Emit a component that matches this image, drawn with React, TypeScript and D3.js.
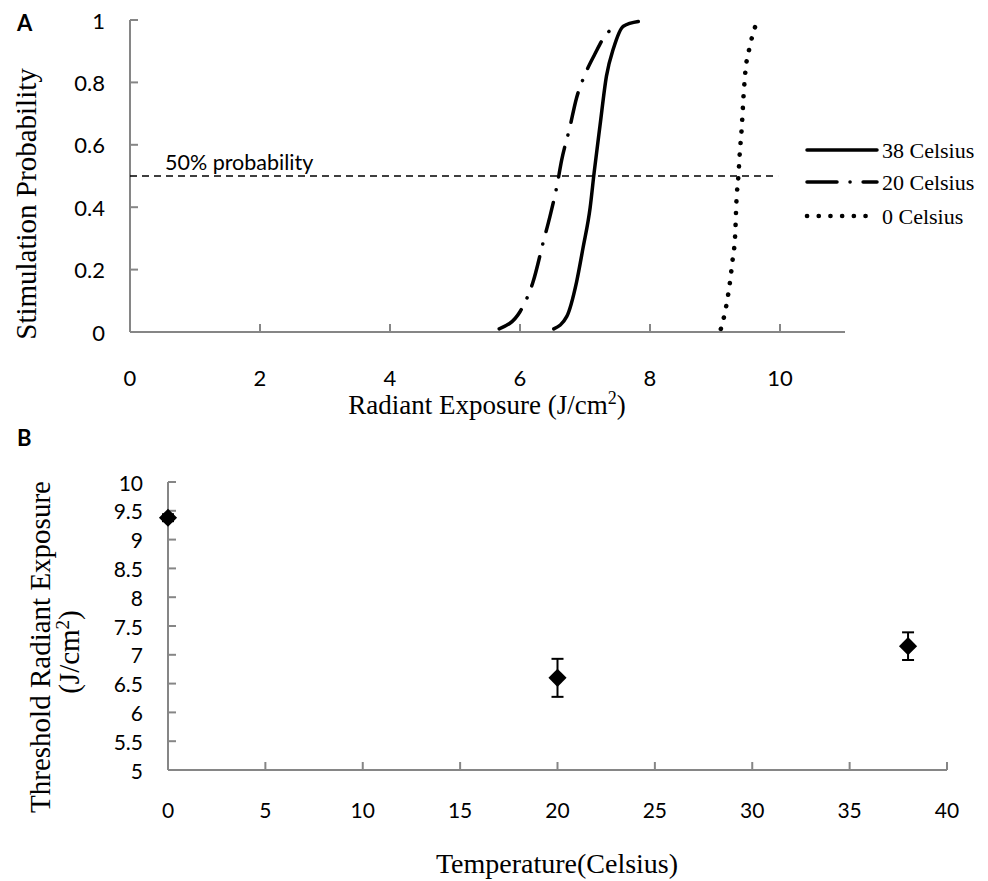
import * as d3 from "d3";

const WIDTH = 988;
const HEIGHT = 881;

// panel A: stimulation probability curves
const exposure38 = [6.52, 6.72, 6.87, 6.97, 7.08, 7.14, 7.23, 7.33, 7.44, 7.59, 7.82];
const prob38 = [0.01, 0.05, 0.16, 0.27, 0.4, 0.51, 0.66, 0.82, 0.91, 0.98, 0.995];
const exposure20 = [5.68, 6.0, 6.11, 6.2, 6.36, 6.46, 6.57, 6.64, 6.76, 6.87, 7.01, 7.15, 7.31, 7.49];
const prob20 = [0.01, 0.065, 0.11, 0.16, 0.29, 0.37, 0.47, 0.55, 0.65, 0.75, 0.83, 0.89, 0.95, 0.98];
const exposure0 = [9.09, 9.17, 9.23, 9.27, 9.31, 9.33, 9.36, 9.38, 9.41, 9.44, 9.47, 9.53, 9.62];
const prob0 = [0.01, 0.08, 0.16, 0.23, 0.31, 0.42, 0.5, 0.57, 0.65, 0.76, 0.84, 0.91, 0.98];
const legendLabels = ["38 Celsius", "20 Celsius", "0 Celsius"];
const xTicksA = [0, 2, 4, 6, 8, 10];
const yTicksA = [0, 0.2, 0.4, 0.6, 0.8, 1];

// panel B: threshold radiant exposure vs temperature
const temperatures = [0, 20, 38];
const thresholds = [9.38, 6.6, 7.15];
const errors = [0.06, 0.33, 0.24];
const xTicksB = [0, 5, 10, 15, 20, 25, 30, 35, 40];
const yTicksB = [5, 5.5, 6, 6.5, 7, 7.5, 8, 8.5, 9, 9.5, 10];

const AXIS = "#868686";
const SANS = "Lato, 'Open Sans', sans-serif";
const SERIF = "'Liberation Serif', 'DejaVu Serif', serif";

// solid, long dash-dot, round dots
const STYLES = [
  { dash: null, width: 3.5 },
  { dash: "30 13 0.1 13", width: 3.5 },
  { dash: "0.1 11.6", width: 4.6 },
];

export default function App() {
  // panel A scales
  const xA = d3.scaleLinear().domain([0, 11]).range([130, 845]);
  const yA = d3.scaleLinear().domain([0, 1]).range([332, 20]);

  const curves = [
    exposure38.map((e, i) => [e, prob38[i]]),
    exposure20.map((e, i) => [e, prob20[i]]),
    exposure0.map((e, i) => [e, prob0[i]]),
  ];
  const line = d3
    .line<number[]>()
    .x((d) => xA(d[0]))
    .y((d) => yA(d[1]))
    .curve(d3.curveMonotoneX);

  // panel B scales
  const xB = d3.scaleLinear().domain([0, 40]).range([168, 947]);
  const yB = d3.scaleLinear().domain([5, 10]).range([770, 482]);
  const diamond = d3.symbol(d3.symbolSquare, 165)();

  const legendY = [150, 182, 216];

  return (
    <svg
      width={WIDTH}
      height={HEIGHT}
      style={{ position: "absolute", left: 0, top: 0, background: "white" }}
    >
      {/* ---------- panel A ---------- */}
      <text x={17} y={31} fontFamily={SANS} fontWeight="bold" fontSize={22}>
        A
      </text>

      <line x1={xA(0)} x2={xA(0)} y1={yA(1)} y2={yA(0)} stroke={AXIS} strokeWidth={2} />
      <line x1={xA(0)} x2={xA(11)} y1={yA(0)} y2={yA(0)} stroke={AXIS} strokeWidth={2} />
      {yTicksA.map((t) => (
        <g key={t}>
          <line x1={xA(0)} x2={xA(0) + 8} y1={yA(t)} y2={yA(t)} stroke={AXIS} strokeWidth={2} />
          <text
            x={105}
            y={yA(t)}
            textAnchor="end"
            dominantBaseline="central"
            fontFamily={SANS}
            fontSize={22}
          >
            {t}
          </text>
        </g>
      ))}
      {xTicksA.map((t) => (
        <g key={t}>
          <line x1={xA(t)} x2={xA(t)} y1={yA(0)} y2={yA(0) - 8} stroke={AXIS} strokeWidth={2} />
          <text x={xA(t)} y={386} textAnchor="middle" fontFamily={SANS} fontSize={22}>
            {t}
          </text>
        </g>
      ))}

      {/* 50% line */}
      <line
        x1={xA(0)}
        x2={xA(9.97)}
        y1={yA(0.5)}
        y2={yA(0.5)}
        stroke="black"
        strokeWidth={1.6}
        strokeDasharray="7 5"
      />
      <text x={165} y={170} fontFamily={SANS} fontSize={21.5}>
        50% probability
      </text>

      {curves.map((c, i) => (
        <path
          key={i}
          d={line(c) || ""}
          fill="none"
          stroke="black"
          strokeWidth={STYLES[i].width}
          strokeDasharray={STYLES[i].dash || undefined}
          strokeLinecap="round"
        />
      ))}

      {legendLabels.map((lab, i) => (
        <g key={lab}>
          <line
            x1={807}
            x2={877}
            y1={legendY[i]}
            y2={legendY[i]}
            stroke="black"
            strokeWidth={STYLES[i].width}
            strokeDasharray={STYLES[i].dash || undefined}
            strokeLinecap="round"
          />
          <text
            x={882}
            y={legendY[i]}
            dominantBaseline="central"
            fontFamily={SERIF}
            fontSize={22}
          >
            {lab}
          </text>
        </g>
      ))}

      <text
        transform="translate(36, 204) rotate(-90)"
        textAnchor="middle"
        fontFamily={SERIF}
        fontSize={29}
      >
        Stimulation Probability
      </text>
      <text x={487} y={414} textAnchor="middle" fontFamily={SERIF} fontSize={27}>
        Radiant Exposure (J/cm
        <tspan dy={-10} fontSize={18}>
          2
        </tspan>
        <tspan dy={10}>)</tspan>
      </text>

      {/* ---------- panel B ---------- */}
      <text x={17} y={446} fontFamily={SANS} fontWeight="bold" fontSize={22}>
        B
      </text>

      <line x1={xB(0)} x2={xB(0)} y1={yB(10)} y2={yB(5)} stroke={AXIS} strokeWidth={2} />
      <line x1={xB(0)} x2={xB(40)} y1={yB(5)} y2={yB(5)} stroke={AXIS} strokeWidth={2} />
      {yTicksB.map((t) => (
        <g key={t}>
          <line x1={xB(0)} x2={xB(0) + 8} y1={yB(t)} y2={yB(t)} stroke={AXIS} strokeWidth={2} />
          <text
            x={143}
            y={yB(t)}
            textAnchor="end"
            dominantBaseline="central"
            fontFamily={SANS}
            fontSize={21}
          >
            {t}
          </text>
        </g>
      ))}
      {xTicksB.map((t) => (
        <g key={t}>
          <line x1={xB(t)} x2={xB(t)} y1={yB(5)} y2={yB(5) - 8} stroke={AXIS} strokeWidth={2} />
          <text x={xB(t)} y={818} textAnchor="middle" fontFamily={SANS} fontSize={21}>
            {t}
          </text>
        </g>
      ))}

      {temperatures.map((t, i) => {
        const cx = xB(t);
        const top = yB(thresholds[i] + errors[i]);
        const bot = yB(thresholds[i] - errors[i]);
        return (
          <g key={t}>
            <line x1={cx} x2={cx} y1={top} y2={bot} stroke="black" strokeWidth={2} />
            <line x1={cx - 6} x2={cx + 6} y1={top} y2={top} stroke="black" strokeWidth={2} />
            <line x1={cx - 6} x2={cx + 6} y1={bot} y2={bot} stroke="black" strokeWidth={2} />
            <path
              d={diamond || ""}
              transform={`translate(${cx}, ${yB(thresholds[i])}) rotate(45)`}
              fill="black"
            />
          </g>
        );
      })}

      <text
        transform="translate(50, 647) rotate(-90)"
        textAnchor="middle"
        fontFamily={SERIF}
        fontSize={29}
      >
        Threshold Radiant Exposure
      </text>
      <text
        transform="translate(79, 652) rotate(-90)"
        textAnchor="middle"
        fontFamily={SERIF}
        fontSize={29}
      >
        (J/cm
        <tspan dy={-10} fontSize={19}>
          2
        </tspan>
        <tspan dy={10}>)</tspan>
      </text>
      <text x={557} y={873} textAnchor="middle" fontFamily={SERIF} fontSize={28}>
        Temperature(Celsius)
      </text>
    </svg>
  );
}
